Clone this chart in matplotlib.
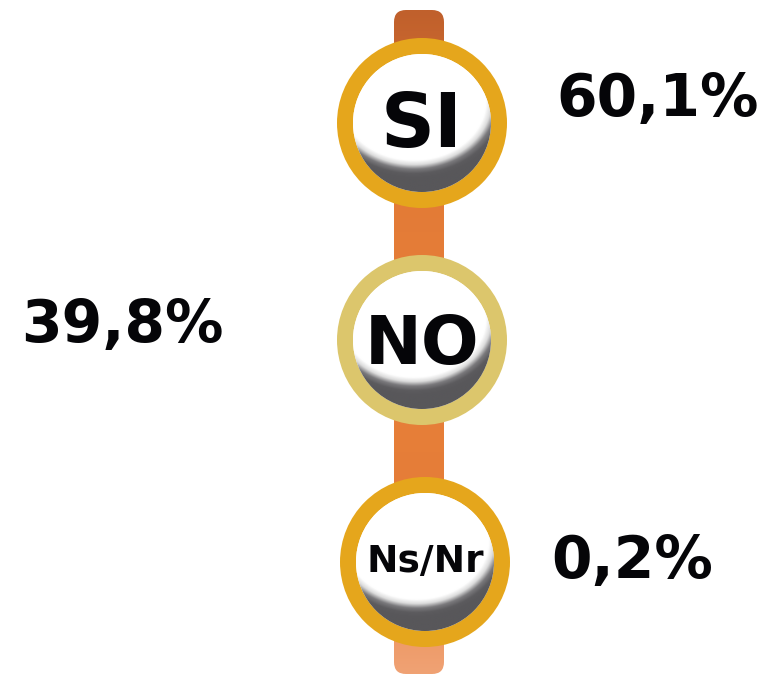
import matplotlib.pyplot as plt
import numpy as np
from matplotlib.colors import LinearSegmentedColormap
from matplotlib.patches import Circle, FancyBboxPatch

labels = ["SI", "NO", "Ns/Nr"]
values = [60.1, 39.8, 0.2]
ring_colors = ["#e5a61c", "#dcc66c", "#e5a61c"]
label_sizes = [54, 49, 27]

# layout (pixel space, y down)
W, H = 764, 676
centers = [(422, 123), (422, 340), (425, 562)]
R_OUT, R_IN = 85, 69
label_dy = [4, 5, 0]
value_pos = [(658, 100), (122, 326), (632, 561)]

fig = plt.figure(figsize=(W / 100, H / 100), dpi=100)
ax = fig.add_axes([0, 0, 1, 1])
ax.set_xlim(0, W)
ax.set_ylim(H, 0)
ax.axis("off")

# orange spine behind the buttons
bar = FancyBboxPatch((394 + 12, 10 + 12), 50 - 24, 664 - 24,
                     boxstyle="round,pad=12", fc="none", ec="none")
ax.add_patch(bar)
bar_cmap = LinearSegmentedColormap.from_list(
    "bar", ["#c0602c", "#e27a36", "#e8803a", "#e57d38", "#f0a274"])
grad = np.linspace(0, 1, 256).reshape(-1, 1)
im = ax.imshow(grad, cmap=bar_cmap, extent=(394, 444, 674, 10), aspect="auto", zorder=1)
im.set_clip_path(bar)

# shaded sphere look for the white inner discs: dark crescent at the bottom right
n = 300
yy, xx = np.mgrid[-1:1:n * 1j, -1:1:n * 1j]
d = np.sqrt((0.82 * (xx + 0.12)) ** 2 + (yy + 0.32) ** 2)
shade = np.clip((d - 0.86) / 0.26, 0, 1)
sphere_cmap = LinearSegmentedColormap.from_list(
    "sphere", ["#ffffff", "#dcdcdc", "#7a797c", "#5c5b5e", "#58575a"])

for (cx, cy), lab, col, fs, dy in zip(centers, labels, ring_colors, label_sizes, label_dy):
    ax.add_patch(Circle((cx, cy), R_OUT, fc=col, ec="none", zorder=2))
    disc = Circle((cx, cy), R_IN, fc="white", ec="none", zorder=3)
    ax.add_patch(disc)
    s = ax.imshow(shade, cmap=sphere_cmap, vmin=0, vmax=1,
                  extent=(cx - R_IN, cx + R_IN, cy + R_IN, cy - R_IN), zorder=4)
    s.set_clip_path(disc)
    ax.text(cx, cy + dy, lab, ha="center", va="center", fontsize=fs,
            fontweight="bold", color="#050508", zorder=5)

for v, (x, y) in zip(values, value_pos):
    ax.text(x, y, f"{v:.1f}".replace(".", ",") + "%", ha="center", va="center",
            fontsize=42, fontweight="bold", color="#050508")

fig.savefig("out.png", dpi=100, facecolor="white")
